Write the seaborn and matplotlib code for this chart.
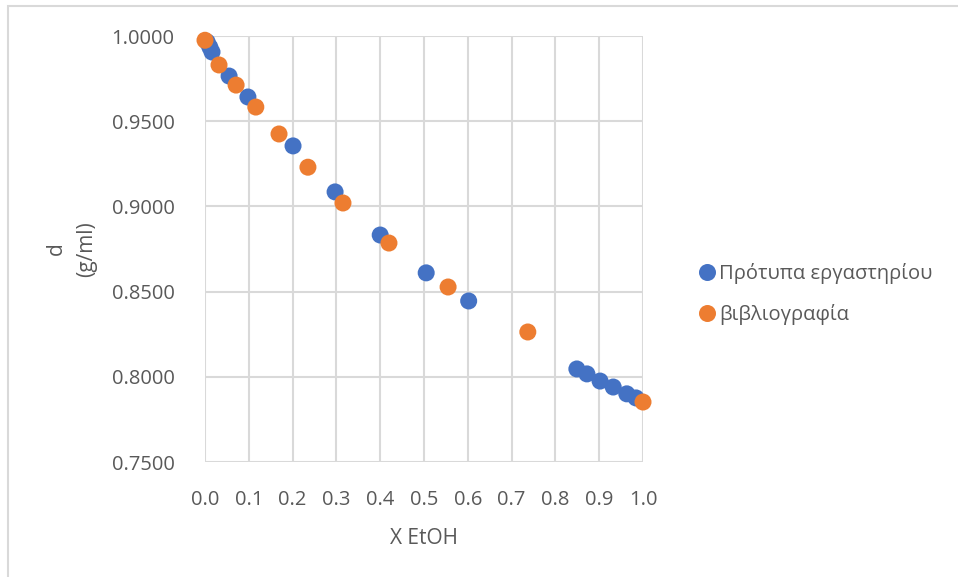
import matplotlib
matplotlib.use("Agg")
import matplotlib.pyplot as plt
import seaborn as sns
import pandas as pd
from matplotlib.patches import Rectangle

# Series 1: Πρότυπα εργαστηρίου
x_lab = [0.005, 0.011, 0.016, 0.055, 0.098, 0.201, 0.297, 0.400, 0.505, 0.602,
         0.849, 0.872, 0.902, 0.932, 0.963, 0.984]
d_lab = [0.9965, 0.9935, 0.9906, 0.9765, 0.9642, 0.9355, 0.9085, 0.8832, 0.8610, 0.8445,
         0.8046, 0.8017, 0.7975, 0.7940, 0.7900, 0.7876]

# Series 2: βιβλιογραφία
x_lit = [0.0, 0.032, 0.071, 0.116, 0.169, 0.235, 0.315, 0.420, 0.555, 0.737, 1.0]
d_lit = [0.9975, 0.9830, 0.9712, 0.9583, 0.9425, 0.9230, 0.9020, 0.8785, 0.8527, 0.8263, 0.7852]

series_names = ["Πρότυπα εργαστηρίου", "βιβλιογραφία"]
colors = ["#4472C4", "#ED7D31"]
x_ticks = [0.0, 0.1, 0.2, 0.3, 0.4, 0.5, 0.6, 0.7, 0.8, 0.9, 1.0]
y_ticks = [0.75, 0.80, 0.85, 0.90, 0.95, 1.00]

df = pd.concat([
    pd.DataFrame({"x": x_lab, "d": d_lab, "s": series_names[0]}),
    pd.DataFrame({"x": x_lit, "d": d_lit, "s": series_names[1]}),
], ignore_index=True)

sns.set_theme(style="white")
plt.rcParams["font.family"] = ["Open Sans", "DejaVu Sans"]
txt = "#595959"

fig = plt.figure(figsize=(9.58, 5.77), dpi=100)
ax = fig.add_axes([205/958, 1-462/577, (643-205)/958, (462-36)/577])

sns.scatterplot(data=df, x="x", y="d", hue="s", palette=colors, hue_order=series_names,
                s=150, edgecolor="none", linewidth=0, ax=ax, zorder=3, clip_on=False)

ax.set_xlim(0, 1)
ax.set_ylim(0.75, 1.0)
ax.set_xticks(x_ticks)
ax.set_xticklabels([f"{v:.1f}" for v in x_ticks])
ax.set_yticks(y_ticks)
ax.set_yticklabels([f"{v:.4f}" for v in y_ticks])
ax.grid(True, color="#D9D9D9", linewidth=1.5)
ax.set_axisbelow(True)
for sp in ax.spines.values():
    sp.set_visible(False)
ax.tick_params(axis="both", length=0, colors=txt, labelsize=14.5)
ax.tick_params(axis="x", pad=20)
ax.tick_params(axis="y", pad=22)

ax.set_xlabel("X EtOH", color=txt, fontsize=15, labelpad=13)
ax.set_ylabel("d\n(g/ml)", color=txt, fontsize=15, labelpad=10, linespacing=1.6)

leg = ax.legend(loc="center left", bbox_to_anchor=(694/958, 1-294/577),
                bbox_transform=fig.transFigure, frameon=False, fontsize=14.5,
                handletextpad=0.15, labelspacing=1.0, markerscale=1.0, handlelength=0.9,
                borderpad=0.2, borderaxespad=0)
for t in leg.get_texts():
    t.set_color(txt)

fig.patches.append(Rectangle((8/958, -0.05), 1.1, 1-6/577+0.05, transform=fig.transFigure,
                             fill=False, edgecolor="#D9D9D9", linewidth=1.5))

fig.savefig("out.png", dpi=100)
